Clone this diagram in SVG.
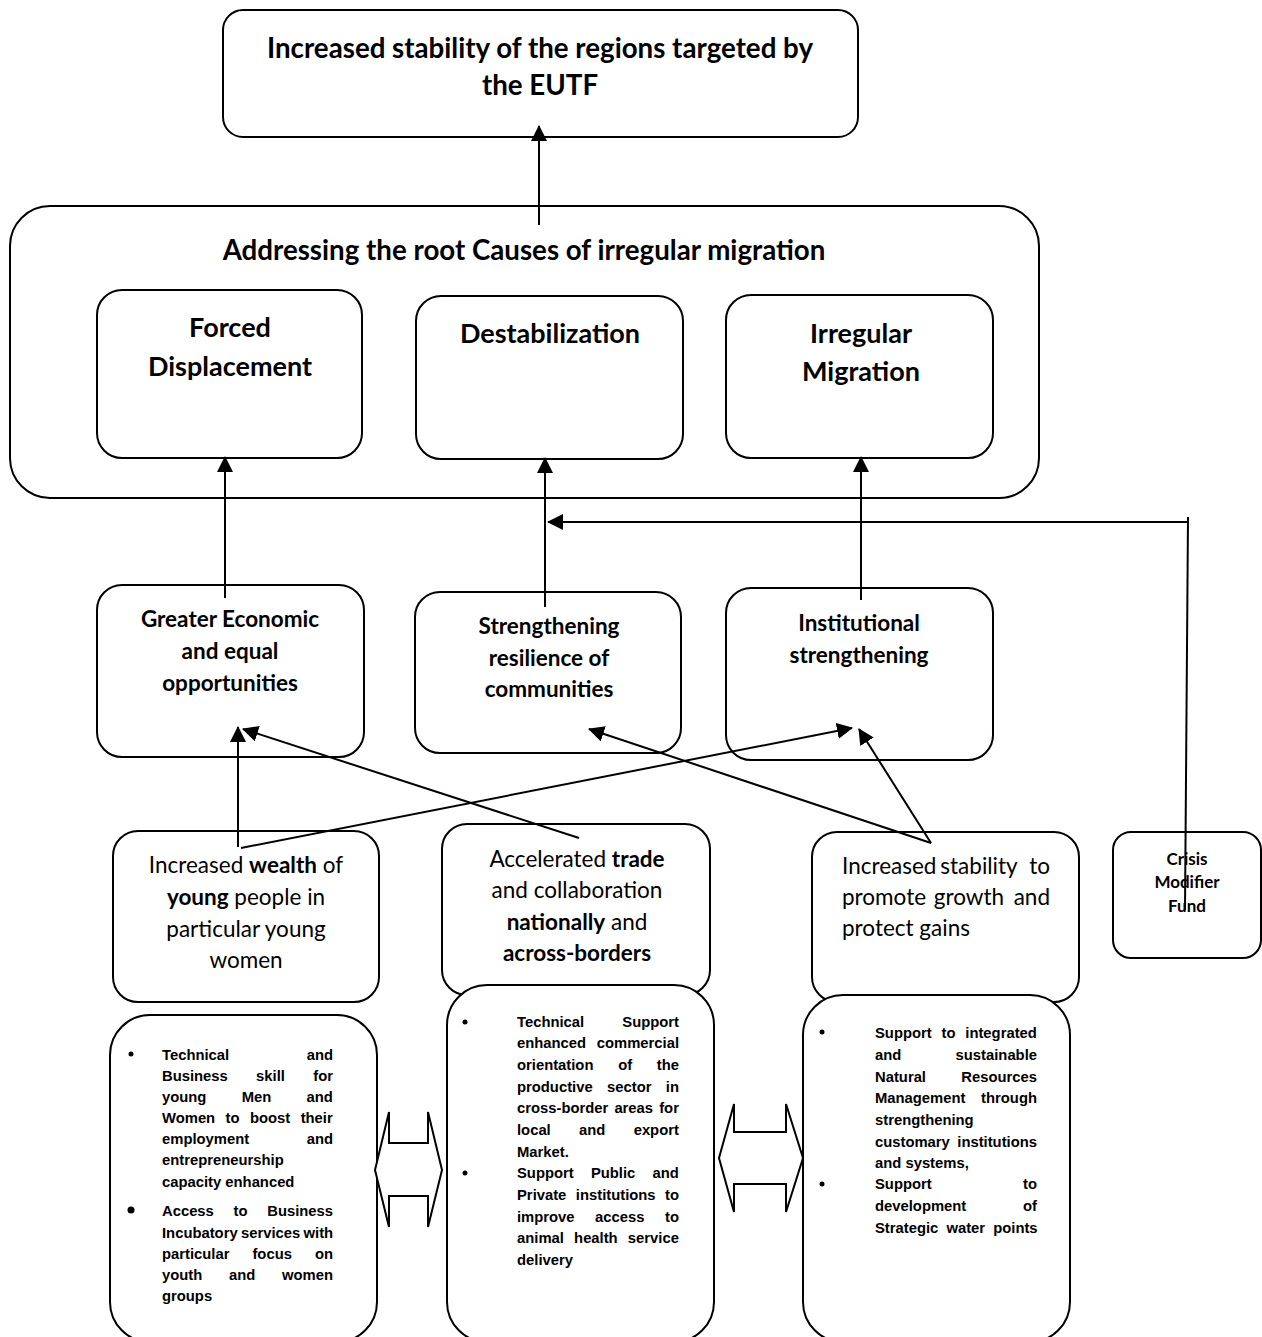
<svg xmlns="http://www.w3.org/2000/svg" width="1262" height="1337" viewBox="0 0 1262 1337">
<style>
.box{fill:#fff;stroke:#000;stroke-width:2}
.c{font-family:Lato,"Open Sans","Liberation Sans",sans-serif;fill:#000}
.t1{font-size:27px;font-weight:bold;text-anchor:middle}
.t0{font-size:27.7px;font-weight:bold;text-anchor:middle}
.t2{font-size:22.5px;font-weight:bold;text-anchor:middle}
.t3{font-size:22.5px;text-anchor:middle}
.t4{font-size:22.5px}
.t5{font-size:17px;font-weight:bold;text-anchor:middle}
.b{font-weight:bold}
.a{font-family:"Liberation Sans",Arial,sans-serif;font-weight:bold;font-size:14.8px;fill:#000}
.e{text-anchor:end}
.ln{stroke:#000;stroke-width:2;fill:none}
.ar{stroke:#000;stroke-width:2;fill:none;marker-end:url(#ah)}
.blk{fill:#fff;stroke:#000;stroke-width:2;stroke-linejoin:miter}
</style>
<defs>
<marker id="ah" viewBox="0 0 16 16" refX="15" refY="8" markerWidth="16" markerHeight="16" orient="auto" markerUnits="userSpaceOnUse"><path d="M0,0 L16,8 L0,16 z" fill="#000"/></marker>
</defs>

<g id="root-causes">
<rect class="box" x="10" y="206" width="1029" height="292" rx="40"/>
<text class="c t0" x="524" y="260">Addressing the root Causes of irregular migration</text>
</g>
<g id="forced-displacement">
<rect class="box" x="97" y="290" width="265" height="168" rx="25"/>
<text class="c t1" x="230" y="337">Forced</text>
<text class="c t1" x="230" y="376">Displacement</text>
</g>
<g id="destabilization">
<rect class="box" x="416" y="296" width="267" height="163" rx="25"/>
<text class="c t1" x="550" y="343">Destabilization</text>
</g>
<g id="irregular-migration">
<rect class="box" x="726" y="295" width="267" height="163" rx="25"/>
<text class="c t1" x="861" y="343">Irregular</text>
<text class="c t1" x="861" y="381">Migration</text>
</g>
<g id="increased-stability">
<rect class="box" x="223" y="10" width="635" height="127" rx="20"/>
<text class="c t0" x="540" y="58">Increased stability of the regions targeted by</text>
<text class="c t0" x="540" y="95">the EUTF</text>
</g>

<g id="greater-economic">
<rect class="box" x="97" y="585" width="267" height="172" rx="25"/>
<text class="c t2" x="230" y="627">Greater Economic</text>
<text class="c t2" x="230" y="659">and equal</text>
<text class="c t2" x="230" y="691">opportunities</text>
</g>
<g id="strengthening-resilience">
<rect class="box" x="415" y="592" width="266" height="161" rx="25"/>
<text class="c t2" x="549" y="634">Strengthening</text>
<text class="c t2" x="549" y="666">resilience of</text>
<text class="c t2" x="549" y="697">communities</text>
</g>
<g id="institutional-strengthening">
<rect class="box" x="726" y="588" width="267" height="172" rx="25"/>
<text class="c t2" x="859" y="631">Institutional</text>
<text class="c t2" x="859" y="663">strengthening</text>
</g>

<g id="increased-wealth">
<rect class="box" x="113" y="831" width="266" height="171" rx="25"/>
<text class="c t3" x="246" y="873">Increased <tspan class="b">wealth</tspan> of</text>
<text class="c t3" x="246" y="905"><tspan class="b">young</tspan> people in</text>
<text class="c t3" x="246" y="937">particular young</text>
<text class="c t3" x="246" y="968">women</text>
</g>
<g id="accelerated-trade">
<rect class="box" x="442" y="824" width="268" height="171" rx="25"/>
<text class="c t3" x="577" y="867">Accelerated <tspan class="b">trade</tspan></text>
<text class="c t3" x="577" y="898">and collaboration</text>
<text class="c t3" x="577" y="930"><tspan class="b">nationally</tspan> and</text>
<text class="c t3" x="577" y="961"><tspan class="b">across-borders</tspan></text>
</g>
<g id="increased-stability-growth">
<rect class="box" x="812" y="832" width="267" height="170" rx="25"/>
<text class="c t4" x="842" y="874">Increased</text>
<text class="c t4" x="979" y="874" text-anchor="middle">stability</text>
<text class="c t4 e" x="1050" y="874">to</text>
<text class="c t4" x="842" y="905">promote</text>
<text class="c t4" x="969" y="905" text-anchor="middle">growth</text>
<text class="c t4 e" x="1050" y="905">and</text>
<text class="c t4" x="842" y="936">protect gains</text>
</g>
<g id="crisis-modifier-fund">
<rect class="box" x="1113" y="832" width="148" height="126" rx="18"/>
<text class="c t5" x="1187" y="865">Crisis</text>
<text class="c t5" x="1187" y="888">Modifier</text>
<text class="c t5" x="1187" y="912">Fund</text>
</g>

<g id="activities-wealth">
<rect class="box" x="110" y="1015" width="267" height="327" rx="40"/>
<circle cx="131" cy="1054" r="2.5"/>
<circle cx="131" cy="1210" r="3.5"/>
<text class="a" x="162" y="1060">Technical</text><text class="a e" x="333" y="1060">and</text>
<text class="a" x="162" y="1081" word-spacing="24.2">Business skill for</text>
<text class="a" x="162" y="1102" word-spacing="31.2">young Men and</text>
<text class="a" x="162" y="1123" word-spacing="6.3">Women to boost their</text>
<text class="a" x="162" y="1144">employment</text><text class="a e" x="333" y="1144">and</text>
<text class="a" x="162" y="1165">entrepreneurship</text>
<text class="a" x="162" y="1187">capacity enhanced</text>
<text class="a" x="162" y="1216" word-spacing="15.6">Access to Business</text>
<text class="a" x="162" y="1238" word-spacing="-0.8">Incubatory services with</text>
<text class="a" x="162" y="1259" word-spacing="18.9">particular focus on</text>
<text class="a" x="162" y="1280" word-spacing="22.6">youth and women</text>
<text class="a" x="162" y="1301">groups</text>
</g>
<g id="activities-trade">
<rect class="box" x="447" y="985" width="267" height="357" rx="40"/>
<circle cx="465" cy="1022" r="2.5"/>
<circle cx="465" cy="1173" r="2.5"/>
<text class="a" x="517" y="1027">Technical</text><text class="a e" x="679" y="1027">Support</text>
<text class="a" x="517" y="1048">enhanced</text><text class="a e" x="679" y="1048">commercial</text>
<text class="a" x="517" y="1070" word-spacing="20.6">orientation of the</text>
<text class="a" x="517" y="1092" word-spacing="10.3">productive sector in</text>
<text class="a" x="517" y="1113" word-spacing="2">cross-border areas for</text>
<text class="a" x="517" y="1135" word-spacing="24.2">local and export</text>
<text class="a" x="517" y="1157">Market.</text>
<text class="a" x="517" y="1178" word-spacing="13.1">Support Public and</text>
<text class="a" x="517" y="1200" word-spacing="5.4">Private institutions to</text>
<text class="a" x="517" y="1222" word-spacing="16.4">improve access to</text>
<text class="a" x="517" y="1243" word-spacing="6.1">animal health service</text>
<text class="a" x="517" y="1265">delivery</text>
</g>
<g id="activities-stability">
<rect class="box" x="803" y="995" width="267" height="347" rx="40"/>
<circle cx="822" cy="1032" r="2.5"/>
<circle cx="822" cy="1184" r="2.5"/>
<text class="a" x="875" y="1038" word-spacing="5.7">Support to integrated</text>
<text class="a" x="875" y="1060">and</text><text class="a e" x="1037" y="1060">sustainable</text>
<text class="a" x="875" y="1082">Natural</text><text class="a e" x="1037" y="1082">Resources</text>
<text class="a" x="875" y="1103">Management</text><text class="a e" x="1037" y="1103">through</text>
<text class="a" x="875" y="1125">strengthening</text>
<text class="a" x="875" y="1147">customary</text><text class="a e" x="1037" y="1147">institutions</text>
<text class="a" x="875" y="1168">and systems,</text>
<text class="a" x="875" y="1189">Support</text><text class="a e" x="1037" y="1189">to</text>
<text class="a" x="875" y="1211">development</text><text class="a e" x="1037" y="1211">of</text>
<text class="a" x="875" y="1233" word-spacing="4">Strategic water points</text>
</g>

<g id="connectors">
<line class="ar" x1="539" y1="225" x2="539" y2="126"/>
<line class="ar" x1="225" y1="598" x2="225" y2="457"/>
<line class="ar" x1="545" y1="607" x2="545" y2="458"/>
<line class="ar" x1="861" y1="600" x2="861" y2="457"/>
<line class="ar" x1="1188" y1="522" x2="548" y2="522"/>
<line class="ln" x1="1188" y1="517" x2="1185" y2="910"/>
<line class="ar" x1="238" y1="847" x2="238" y2="727"/>
<line class="ar" x1="579" y1="838" x2="243" y2="729"/>
<line class="ar" x1="241" y1="848" x2="852" y2="728"/>
<line class="ar" x1="931" y1="843" x2="589" y2="729"/>
<line class="ar" x1="931" y1="843" x2="859" y2="729"/>
<polygon class="blk" points="375,1170 389,1112 389,1143 428,1143 428,1112 442,1170 428,1227 428,1196 389,1196 389,1227"/>
<polygon class="blk" points="719,1158 734,1104 734,1132 786,1132 786,1104 803,1158 786,1212 786,1184 734,1184 734,1212"/>
</g>
</svg>
